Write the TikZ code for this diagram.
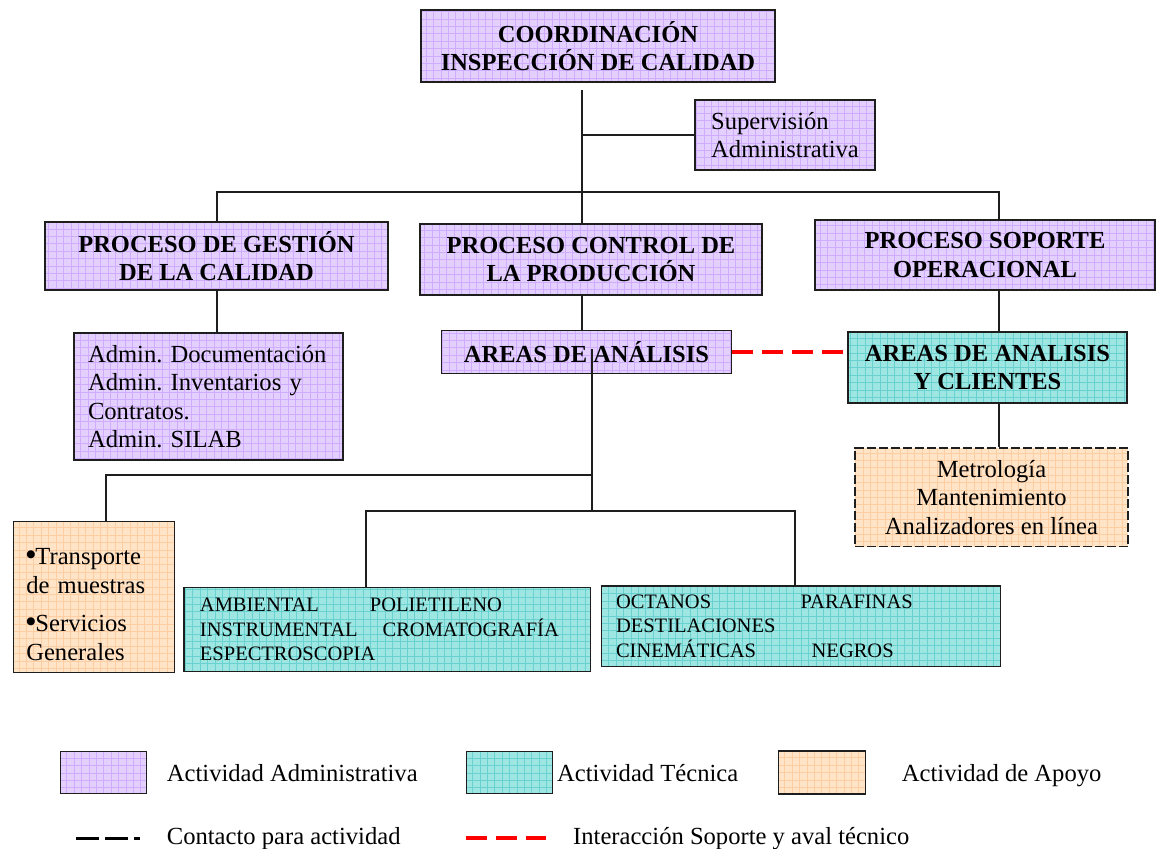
\documentclass[tikz,border=0pt]{standalone}
\usepackage{fontspec}
\setmainfont{Liberation Serif}
\newfontfamily\symfont{DejaVu Sans}
\usetikzlibrary{calc}
\frenchspacing

\definecolor{admfill}{RGB}{228,208,255}
\definecolor{admgrid}{RGB}{208,172,255}
\definecolor{tecfill}{RGB}{158,230,226}
\definecolor{tecgrid}{RGB}{105,210,208}
\definecolor{apofill}{RGB}{255,228,200}
\definecolor{apogrid}{RGB}{255,205,162}
\definecolor{linkred}{RGB}{255,0,0}
\definecolor{edge}{RGB}{30,30,30}

% raised round bullet used in the support box
\newcommand\tbullet{\raisebox{7.5pt}{\symfont\fontsize{10.5}{10.5}\selectfont ●}}

\tikzset{
  gridbox/.style 2 args={draw=edge, line width=1.1pt, fill=#1, inner sep=0pt,
    path picture={\draw[#2, solid, line width=0.45pt]
      (path picture bounding box.south west) grid[step=7.4pt]
      (path picture bounding box.north east);}},
  admbox/.style={gridbox={admfill}{admgrid}},
  tecbox/.style={gridbox={tecfill}{tecgrid}},
  apobox/.style={gridbox={apofill}{apogrid}},
  boxsize/.style 2 args={minimum width=#1pt, minimum height=#2pt},
  headfont/.style={font=\fontsize{24.5}{28.5}\selectfont\bfseries, align=center},
  bodyfont/.style={font=\fontsize{24.6}{28.5}\selectfont},
  tecfont/.style={font=\fontsize{20.5}{24.5}\selectfont},
  link/.style={draw=edge, line width=1.1pt},
  support/.style={draw=linkred, line width=3.3pt, dash pattern=on 21pt off 9pt},
  contact/.style={draw=black, line width=3pt, dash pattern=on 23pt off 6pt},
  legendtext/.style={anchor=base west, inner sep=0pt, font=\fontsize{24.6}{28}\selectfont},
}

\begin{document}
\begin{tikzpicture}[x=1pt, y=-1pt]
\useasboundingbox (0,0) rectangle (1160,849);

% --- organisation boxes ---
\node[admbox, boxsize={354}{72}, headfont] (coord) at (598,46)
  {COORDINACIÓN\\INSPECCIÓN DE CALIDAD};
\node[admbox, boxsize={180}{70}, bodyfont, align=left] (superv) at (785,135)
  {Supervisión\\Administrativa};
\node[admbox, boxsize={343}{68}, headfont] (gest) at (216.5,256)
  {PROCESO DE GESTIÓN\\DE LA CALIDAD};
\node[admbox, boxsize={342}{71}, headfont] (ctrl) at (591,259.5)
  {PROCESO CONTROL DE\\LA PRODUCCIÓN};
\node[admbox, boxsize={340}{70}, headfont] (sop) at (985,255)
  {PROCESO SOPORTE\\OPERACIONAL};
\node[admbox, boxsize={269}{127}, bodyfont, align=left, text width=241pt] (admin) at (208.5,396.5)
  {Admin. Documentación\\Admin. Inventarios y\\Contratos.\\Admin. SILAB};
\node[admbox, boxsize={290}{42.5}, headfont] (areas) at (586.5,352)
  {AREAS DE ANÁLISIS};
\node[tecbox, boxsize={279}{71}, headfont] (areascli) at (987.5,367.5)
  {AREAS DE ANALISIS\\Y CLIENTES};
\node[apobox, boxsize={273}{98.7}, bodyfont, align=center, dash pattern=on 9pt off 3pt] (metro) at (991.5,497.3)
  {Metrología\\Mantenimiento\\Analizadores en línea};
\node[apobox, boxsize={161}{150.6}, bodyfont, align=left, text width=135pt] (transp) at (93.8,597)
  {\rule{0pt}{31pt}\tbullet Transporte\\de muestras\\[10pt]\tbullet Servicios\\Generales};
\node[tecbox, boxsize={406.7}{84.4}, tecfont, align=left, text width=374.7pt] (tec1) at (387.3,629.5)
  {\makebox[170pt][l]{AMBIENTAL}POLIETILENO\\
   \makebox[182.7pt][l]{INSTRUMENTAL}CROMATOGRAFÍA\\
   ESPECTROSCOPIA};
\node[tecbox, boxsize={399}{80.7}, tecfont, align=left, text width=370.4pt] (tec2) at (801.2,626.3)
  {\makebox[184.7pt][l]{OCTANOS}PARAFINAS\\
   DESTILACIONES\\
   \makebox[195.7pt][l]{CINEMÁTICAS}NEGROS};

% --- connectors ---
\coordinate (trunktop) at (582,90);
\coordinate (busL) at (217,192);
\coordinate (busR) at (999,192);
\coordinate (aroot) at (592,349);
\coordinate (splitA) at (592,475);
\coordinate (splitB) at (592,511);
\coordinate (tapT) at (106,475);
\coordinate (tap1) at (366,511);
\coordinate (tap2) at (795,511);

\draw[link] (trunktop) -- (trunktop |- ctrl.north);
\draw[link] (trunktop |- superv.west) -- (superv.west);
\draw[link] (busL |- gest.north) -- (busL) -- (busR) -- (busR |- sop.north);
\draw[link] (busL |- gest.south) -- (busL |- admin.north);
\draw[link] (trunktop |- ctrl.south) -- (trunktop |- areas.north);
\draw[link] (aroot) -- (splitB);
\draw[link] (splitA) -- (tapT) -- (tapT |- transp.north);
\draw[link] (tap1 |- tec1.north) -- (tap1) -- (tap2) -- (tap2 |- tec2.north);
\draw[link] (busR |- sop.south) -- (busR |- areascli.north);
\draw[link] (busR |- areascli.south) -- (busR |- metro.north);
\draw[support] (areas.east) -- (areas.east -| areascli.west);

% --- legend ---
\node[admbox, boxsize={86}{42}] (legadm) at (103.7,772.8) {};
\node[legendtext] (legadmtxt) at (166.7,781.7) {Actividad Administrativa};
\node[tecbox, boxsize={86}{42}] (legtec) at (509.5,772.8) {};
\node[legendtext] (legtectxt) at (557,781.7) {Actividad Técnica};
\node[apobox, boxsize={86.7}{43}] (legapo) at (821.7,772.5) {};
\node[legendtext] (legapotxt) at (901.7,781.7) {Actividad de Apoyo};

\coordinate (contactA) at (76,838);
\coordinate (contactB) at (140,838);
\draw[contact] (contactA) -- (contactB);
\node[legendtext] (contacttxt) at (166.7,844) {Contacto para actividad};
\coordinate (supportA) at (466,838);
\coordinate (supportB) at (546,838);
\draw[support] (supportA) -- (supportB);
\node[legendtext] (supporttxt) at (573,844) {Interacción Soporte y aval técnico};
\end{tikzpicture}
\end{document}
